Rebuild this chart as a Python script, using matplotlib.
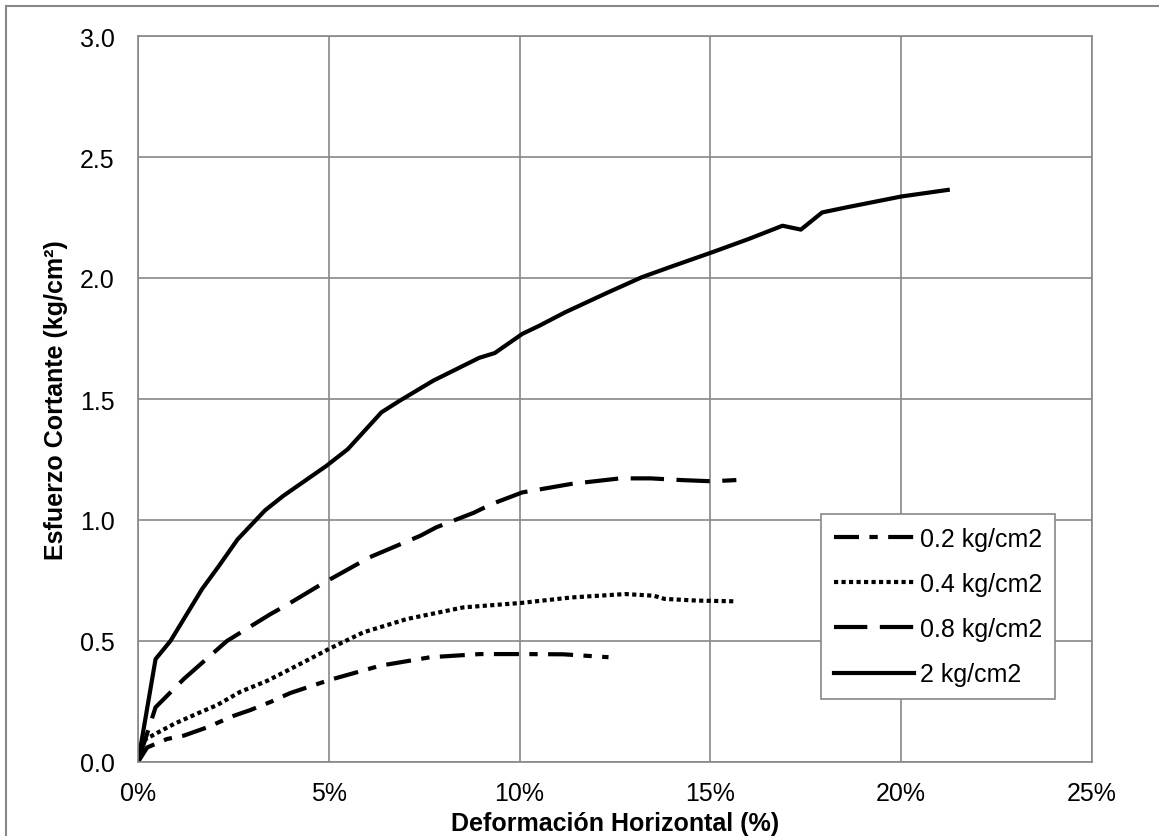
import matplotlib
matplotlib.use("Agg")
import matplotlib.pyplot as plt
from matplotlib.lines import Line2D
from matplotlib.ticker import FuncFormatter

plt.rcParams['font.family'] = ['Liberation Sans', 'DejaVu Sans']

# Deformacion horizontal (%) y esfuerzo cortante (kg/cm2) por carga normal
x_02 = [0, 0.24, 0.76, 1.2, 1.81, 2.51, 2.95, 3.5, 3.99, 5.04, 6.35, 7.66, 8.97, 10.02, 11.15, 12.33]
y_02 = [0, 0.06, 0.095, 0.109, 0.143, 0.191, 0.215, 0.25, 0.285, 0.34, 0.398, 0.433, 0.446, 0.446, 0.445, 0.433]

x_04 = [0, 0.15, 0.5, 0.94, 1.55, 2.07, 2.68, 3.38, 3.99, 5.04, 5.91, 7.05, 8.53, 10.02, 11.36, 12.77, 13.52, 13.8, 14.64, 15.62]
y_04 = [0, 0.09, 0.12, 0.157, 0.2, 0.235, 0.29, 0.335, 0.384, 0.47, 0.536, 0.591, 0.639, 0.657, 0.68, 0.694, 0.687, 0.674, 0.667, 0.664]

x_08 = [0, 0.46, 1.2, 2.33, 3.47, 3.9, 4.82, 6.07, 7.4, 7.82, 8.8, 9.27, 10.07, 11.35, 12.63, 13.44, 14.24, 15.04, 15.68]
y_08 = [0, 0.226, 0.343, 0.5, 0.611, 0.649, 0.736, 0.846, 0.935, 0.97, 1.03, 1.066, 1.114, 1.149, 1.172, 1.172, 1.165, 1.16, 1.165]

x_2 = [0, 0.46, 0.85, 1.68, 2.12, 2.61, 3.33, 3.81, 4.94, 5.5, 6.38, 6.86, 7.74, 8.94, 9.35, 10.07,
       10.52, 11.19, 12.31, 13.2, 13.92, 15.04, 16.0, 16.89, 17.37, 17.93, 18.57, 20.01, 21.22]
y_2 = [0, 0.425, 0.5, 0.715, 0.81, 0.92, 1.04, 1.1, 1.224, 1.293, 1.445, 1.493, 1.576, 1.67, 1.69, 1.769,
       1.803, 1.858, 1.94, 2.003, 2.044, 2.106, 2.161, 2.216, 2.2, 2.271, 2.292, 2.337, 2.364]

labels = ['0.2 kg/cm2', '0.4 kg/cm2', '0.8 kg/cm2', '2 kg/cm2']

W, H = 1159, 837
fig = plt.figure(figsize=(W / 100, H / 100), dpi=100)
ax = fig.add_axes([138 / W, 1 - 763 / H, (1092 - 138) / W, (763 - 37) / H])

grey = '#888888'
lw = 3.0
fs = 18
ax.plot(x_02, y_02, color='black', lw=lw, linestyle=(0, (6, 2.5, 2, 2.5)), label=labels[0])
ax.plot(x_04, y_04, color='black', lw=lw, linestyle=(0, (1, 0.8)), label=labels[1])
ax.plot(x_08, y_08, color='black', lw=lw, linestyle=(0, (8, 3)), label=labels[2])
ax.plot(x_2, y_2, color='black', lw=lw, linestyle='-', label=labels[3])

ax.set_xlim(0, 25)
ax.set_ylim(0, 3.0)
ax.set_xticks([0, 5, 10, 15, 20, 25])
ax.set_yticks([0, 0.5, 1.0, 1.5, 2.0, 2.5, 3.0])
ax.xaxis.set_major_formatter(FuncFormatter(lambda v, p: '%d%%' % v))
ax.yaxis.set_major_formatter(FuncFormatter(lambda v, p: '%.1f' % v))
ax.tick_params(axis='both', length=0, labelsize=fs)
ax.tick_params(axis='x', pad=14)
ax.tick_params(axis='y', pad=17)
ax.grid(True, color=grey, lw=1.2)
ax.set_axisbelow(True)
for s in ax.spines.values():
    s.set_color(grey)
    s.set_linewidth(1.2)

fig.text(615 / W, 1 - 824 / H, 'Deformación Horizontal (%)', ha='center', va='center',
         fontsize=fs, fontweight='bold')
fig.text(56 / W, 1 - 400 / H, 'Esfuerzo Cortante (kg/cm²)', ha='center', va='center',
         rotation=90, fontsize=fs, fontweight='bold')

leg = ax.legend(loc='upper left', bbox_to_anchor=(821 / W, 1 - 515 / H),
                bbox_transform=fig.transFigure, borderaxespad=0, fontsize=fs,
                handlelength=3.2, handletextpad=0.25, labelspacing=0.85,
                borderpad=0.5, fancybox=False, framealpha=1)
leg.get_frame().set_edgecolor(grey)
leg.get_frame().set_linewidth(1.2)

# outer chart border
fig.add_artist(Line2D([6 / W, 6 / W], [-0.05, 1 - 7 / H], color=grey, lw=1.5))
fig.add_artist(Line2D([6 / W, 1.05], [1 - 7 / H, 1 - 7 / H], color=grey, lw=1.5))

fig.savefig('out.png', dpi=100)
